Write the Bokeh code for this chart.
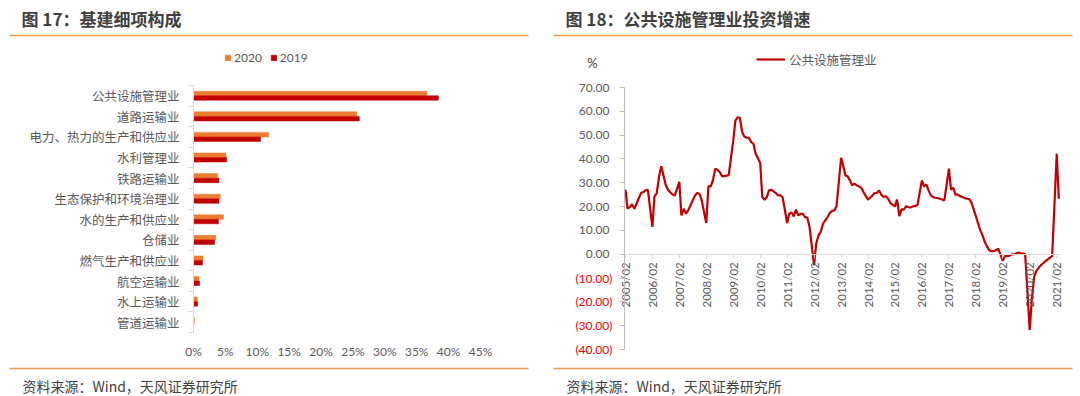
import datetime as dt
from bokeh.plotting import figure
from bokeh.models import (ColumnDataSource, Range1d, Legend, LegendItem, Label, LinearAxis,
                          BoxAnnotation, FixedTicker, PrintfTickFormatter, CustomJSTickFormatter,
                          DatetimeTickFormatter)
from bokeh.transform import dodge
from bokeh.layouts import row
from bokeh.embed import file_html
from bokeh.resources import INLINE

# ---------------- data: left chart ----------------
categories = ["公共设施管理业", "道路运输业", "电力、热力的生产和供应业", "水利管理业", "铁路运输业",
              "生态保护和环境治理业", "水的生产和供应业", "仓储业", "燃气生产和供应业", "航空运输业",
              "水上运输业", "管道运输业"]
share_2020 = [36.6, 25.6, 11.8, 5.1, 3.8, 4.2, 4.7, 3.5, 1.5, 0.85, 0.6, 0.15]
share_2019 = [38.4, 26.0, 10.5, 5.2, 4.0, 4.0, 3.9, 3.3, 1.4, 0.95, 0.65, 0.05]
pct_ticks = [0, 5, 10, 15, 20, 25, 30, 35, 40, 45]

# ---------------- data: right chart (Feb..Dec each year, Jan not published) ----------------
g2005 = [27.1, 19.1, 19.8, 21.0, 19.1, 21.2, 23.6, 25.7, 26.1, 26.8, 27.1]
g2006 = [11.5, 24.3, 25.7, 32.4, 36.9, 33.1, 29.0, 27.1, 26.0, 25.1, 24.6]
g2007 = [30.4, 16.3, 19.1, 17.0, 18.4, 20.5, 22.6, 24.7, 25.7, 25.4, 22.6]
g2008 = [13.1, 28.5, 28.5, 31.0, 35.9, 35.5, 34.5, 32.8, 32.8, 33.0, 33.2]
g2009 = [47.8, 56.1, 57.5, 57.3, 51.3, 49.4, 48.9, 48.9, 47.1, 46.4, 42.2]
g2010 = [38.3, 24.0, 22.9, 24.0, 26.8, 27.1, 26.4, 25.7, 24.7, 24.7, 24.0]
g2011 = [13.1, 17.0, 17.5, 15.9, 18.7, 16.3, 17.0, 17.0, 15.6, 15.4, 11.5]
g2012 = [-4.6, 4.5, 8.0, 9.4, 12.8, 14.2, 15.6, 17.3, 18.2, 18.4, 20.1]
g2013 = [40.5, 37.3, 33.1, 32.7, 31.0, 28.9, 29.6, 28.9, 28.5, 27.9, 26.1]
g2014 = [22.9, 23.7, 24.7, 25.7, 25.7, 26.8, 25.0, 24.0, 24.4, 23.3, 21.5]
g2015 = [20.1, 23.0, 16.0, 18.8, 18.7, 20.1, 19.8, 19.6, 20.1, 20.3, 20.5]
g2016 = [31.0, 28.5, 29.3, 26.8, 24.7, 24.0, 23.7, 23.6, 23.3, 23.0, 22.6]
g2017 = [35.9, 27.1, 27.9, 25.0, 25.0, 24.4, 24.0, 23.6, 23.3, 23.2, 21.9]
g2018 = [16.0, 13.1, 10.1, 8.0, 5.2, 3.4, 1.7, 1.3, 1.3, 1.7, 2.4]
g2019 = [-2.8, -0.8, -0.8, -0.6, -0.1, 0.0, 0.3, 0.7, 0.3, 0.3, 0.1]
g2020 = [-31.8, -18.6, -9.5, -7.0, -5.7, -4.6, -3.8, -2.9, -2.2, -1.4, -0.8]
g2021 = [42.2, 23.3]
growth_years = {2005: g2005, 2006: g2006, 2007: g2007, 2008: g2008, 2009: g2009, 2010: g2010,
                2011: g2011, 2012: g2012, 2013: g2013, 2014: g2014, 2015: g2015, 2016: g2016,
                2017: g2017, 2018: g2018, 2019: g2019, 2020: g2020, 2021: g2021}
date_tick_labels = ["2005/02", "2006/02", "2007/02", "2008/02", "2009/02", "2010/02", "2011/02",
                    "2012/02", "2013/02", "2014/02", "2015/02", "2016/02", "2017/02", "2018/02",
                    "2019/02", "2020/02", "2021/02"]
y_ticks = [-40, -30, -20, -10, 0, 10, 20, 30, 40, 50, 60, 70]

# ---------------- styles ----------------
CJK = "Noto Sans CJK SC"
NUM = "Lato"
ORANGE = "#ED7D31"
DARKRED = "#C00000"
RULE = "#F39B4B"
GREY = "#595959"
DARK = "#404040"
H = 396


def add_label(p, cx, cy, text, size, color, bold=False, font=CJK, align="left"):
    # cx, cy: canvas pixel position (from top-left); the frame covers the whole canvas
    p.add_layout(Label(x=cx, y=H - cy, x_units="screen", y_units="screen", text=text,
                       text_font=font, text_font_size=size, text_color=color,
                       text_font_style="bold" if bold else "normal",
                       text_align=align, text_baseline="middle"))


def add_rule(p, x1, x2, cy):
    p.add_layout(BoxAnnotation(left=x1, right=x2, bottom=H - cy - 0.8, top=H - cy + 0.8,
                               left_units="screen", right_units="screen",
                               top_units="screen", bottom_units="screen",
                               fill_color=RULE, fill_alpha=1.0, line_alpha=0))


def clean(p):
    p.outline_line_color = None
    p.xgrid.visible = False
    p.ygrid.visible = False
    p.background_fill_color = "white"
    p.border_fill_color = "white"


# ================= left chart (canvas = page x 0..544) =================
LW = 544
n = len(categories)
row_pos = [n - 1 - k + 0.5 for k in range(n)]
px_pct = (480 - 193) / 45.0
px_row = (332 - 85) / float(n)
p1 = figure(width=LW, height=H, output_backend="svg", toolbar_location=None, min_border=0,
            x_range=Range1d(-193 / px_pct, 45 + (LW - 480) / px_pct),
            y_range=Range1d(-(H - 332) / px_row, n + 85 / px_row))
clean(p1)
src = ColumnDataSource(dict(y=row_pos, cat=categories, v2020=share_2020, v2019=share_2019))
r20 = p1.hbar(y=dodge("y", 0.11), right="v2020", height=0.22, source=src,
              fill_color=ORANGE, line_color=ORANGE, line_width=0.5)
r19 = p1.hbar(y=dodge("y", -0.11), right="v2019", height=0.22, source=src,
              fill_color=DARKRED, line_color=DARKRED, line_width=0.5)

xa = p1.xaxis[0]
xa.fixed_location = 0
xa.ticker = FixedTicker(ticks=pct_ticks)
xa.formatter = PrintfTickFormatter(format="%d%%")
xa.axis_line_color = None
xa.major_tick_line_color = None
xa.minor_tick_line_color = None
xa.major_label_standoff = 5
xa.major_label_text_font = NUM
xa.major_label_text_font_size = "12px"
xa.major_label_text_color = GREY

ya = p1.yaxis[0]
ya.fixed_location = 0
ya.bounds = (0, n)
ya.ticker = FixedTicker(ticks=row_pos, minor_ticks=list(range(n + 1)))
ya.major_label_overrides = {yv: c for yv, c in zip(row_pos, categories)}
ya.axis_line_color = "#D9D9D9"
ya.major_tick_line_color = None
ya.major_tick_out = 0
ya.major_tick_in = 0
ya.minor_tick_line_color = "#D9D9D9"
ya.minor_tick_out = 5
ya.minor_tick_in = 0
ya.major_label_standoff = 9
ya.major_label_text_font = CJK
ya.major_label_text_font_size = "12.5px"
ya.major_label_text_color = GREY

leg1 = Legend(items=[LegendItem(label="2020", renderers=[r20]), LegendItem(label="2019", renderers=[r19])],
              location=(224, H - 65), orientation="horizontal",
              glyph_width=7, glyph_height=7, label_standoff=3, spacing=8, padding=0, margin=0,
              label_text_font=NUM, label_text_font_size="12px", label_text_color=GREY,
              border_line_alpha=0, background_fill_alpha=0)
p1.add_layout(leg1)
add_label(p1, 21, 18, "图 17：基建细项构成", "17px", DARK, bold=True)
add_rule(p1, 9, 528, 35)
add_rule(p1, 9, 528, 368)
add_label(p1, 22, 385, "资料来源：Wind，天风证券研究所", "14px", DARK)

# ================= right chart (canvas = page x 544..1080) =================
RW = 536
OX = 544
dates, vals = [], []
for yr, vs in growth_years.items():
    for i, v in enumerate(vs):
        dates.append(dt.datetime(yr, 2 + i, 1))
        vals.append(v)
src2 = ColumnDataSource(dict(date=dates, v=vals))

epoch = dt.datetime(1970, 1, 1)


def ms(d):
    return (d - epoch).total_seconds() * 1000.0


t0, t1 = ms(dt.datetime(2005, 1, 19)), ms(dt.datetime(2021, 3, 24))
kx = (1060 - 624) / (t1 - t0)
ky = (349 - 87) / 110.0
p2 = figure(width=RW, height=H, x_axis_type="datetime", output_backend="svg", toolbar_location=None,
            min_border=0,
            x_range=Range1d(t0 - (624 - OX) / kx, t1 + (OX + RW - 1060) / kx),
            y_range=Range1d(-40 - (H - 349) / ky, 70 + 87 / ky))
clean(p2)
rl = p2.line(x="date", y="v", source=src2, line_color=DARKRED, line_width=2.2)

tick_ms = [ms(dt.datetime.strptime(s, "%Y/%m")) for s in date_tick_labels]
xb = p2.xaxis[0]
xb.fixed_location = 0
xb.bounds = (t0, t1)
xb.ticker = FixedTicker(ticks=tick_ms)
xb.formatter = DatetimeTickFormatter(years="%Y/%m", months="%Y/%m", days="%Y/%m")
xb.major_label_orientation = 3.14159265 / 2
xb.axis_line_color = "#D9D9D9"
xb.major_tick_line_color = "#D9D9D9"
xb.major_tick_out = 4
xb.major_tick_in = 0
xb.minor_tick_line_color = None
xb.major_label_standoff = 4
xb.major_label_text_font = NUM
xb.major_label_text_font_size = "11.5px"
xb.major_label_text_color = GREY

pos_ticks = [t for t in y_ticks if t >= 0]
neg_ticks = [t for t in y_ticks if t < 0]
yb = p2.yaxis[0]
yb.fixed_location = t0
yb.bounds = (min(y_ticks), max(y_ticks))
yb.ticker = FixedTicker(ticks=pos_ticks)
yb.formatter = CustomJSTickFormatter(code="return tick.toFixed(2);")
yb.axis_line_color = "#BFBFBF"
yb.major_tick_line_color = "#BFBFBF"
yb.major_tick_out = 5
yb.major_tick_in = 0
yb.minor_tick_line_color = None
yb.major_label_standoff = 10
yb.major_label_text_font = NUM
yb.major_label_text_font_size = "12px"
yb.major_label_text_color = GREY

yneg = LinearAxis(fixed_location=t0, ticker=FixedTicker(ticks=neg_ticks),
                  formatter=CustomJSTickFormatter(code="return '(' + Math.abs(tick).toFixed(2) + ')';"),
                  axis_line_color=None, major_tick_line_color="#BFBFBF", major_tick_out=5, major_tick_in=0,
                  minor_tick_line_color=None, major_label_standoff=7, major_label_text_font=NUM,
                  major_label_text_font_size="12px", major_label_text_color="#FF0000")
p2.add_layout(yneg, "left")

leg2 = Legend(items=[LegendItem(label="公共设施管理业", renderers=[rl])],
              location=(756 - OX, H - 69), orientation="horizontal",
              glyph_width=29, glyph_height=20, label_standoff=4, padding=0, margin=0,
              label_text_font=CJK, label_text_font_size="12.5px", label_text_color=GREY,
              border_line_alpha=0, background_fill_alpha=0)
p2.add_layout(leg2)
add_label(p2, 565 - OX, 18, "图 18：公共设施管理业投资增速", "17px", DARK, bold=True)
add_rule(p2, 553 - OX, 1072 - OX, 35)
add_rule(p2, 553 - OX, 1072 - OX, 368)
add_label(p2, 566 - OX, 385, "资料来源：Wind，天风证券研究所", "14px", DARK)
add_label(p2, 592 - OX, 62, "%", "13px", DARK, font=NUM, align="center")

layout = row(p1, p2)
open("out.html", "w").write(file_html(layout, INLINE))
